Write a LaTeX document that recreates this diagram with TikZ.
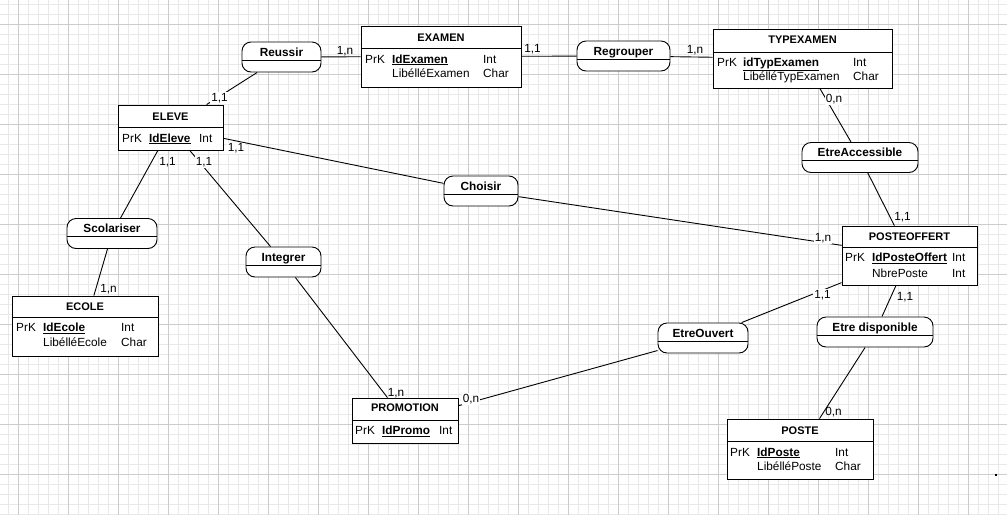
\documentclass[tikz,border=0pt]{standalone}
\usepackage{fontspec}
\setmainfont{Liberation Sans}

\begin{document}
\begin{tikzpicture}[x=1pt,y=-1pt,
  entity/.style={draw, fill=white, line width=0.9pt, inner sep=0pt},
  assoc/.style={draw, fill=white, line width=0.9pt, rounded corners=9pt, inner sep=0pt, minimum height=30pt},
  title/.style={anchor=base, inner sep=0pt, font=\fontsize{11}{13}\selectfont\bfseries},
  rel/.style={anchor=base, inner sep=0pt, font=\fontsize{11.8}{14}\selectfont\bfseries},
  attr/.style={anchor=base west, inner sep=0pt, font=\fontsize{11.8}{14}\selectfont},
  card/.style={anchor=base, inner sep=1pt, font=\fontsize{11.8}{14}\selectfont},
  cardw/.style={card, fill=white},
  link/.style={line width=0.9pt},
  gridmin/.style={gray!18, line width=0.6pt},
  gridmaj/.style={gray!40, line width=0.6pt}]
    \useasboundingbox (0,0) rectangle (1007,515);
    \fill[white] (0,0) rectangle (1007,515);
    % grille de fond
    \foreach \gx in {8,18,...,1006} \draw[gridmin] (\gx,0) -- (\gx,515);
    \foreach \gy in {4,14,...,514} \draw[gridmin] (0,\gy) -- (1007,\gy);
    \foreach \gx in {18,68,...,968} \draw[gridmaj] (\gx,0) -- (\gx,515);
    \foreach \gy in {24,74,...,474} \draw[gridmaj] (0,\gy) -- (1007,\gy);

    % entites
    \node[entity, minimum width=160pt, minimum height=61pt] (examen) at (441,56.5) {};
    \draw[link] (examen.west |- 0,48) -- (examen.east |- 0,48);
    \node[title] (examen-t) at (441,41) {EXAMEN};
    \node[attr] (examen-k) at (365,63) {PrK};
    \node[attr] (examen-i) at (392,63) {\underline{\textbf{IdExamen}}};
    \node[attr] (examen-it) at (483,63) {Int};
    \node[attr] (examen-l) at (392,77) {LibélléExamen};
    \node[attr] (examen-lt) at (483,77) {Char};

    \node[entity, minimum width=179pt, minimum height=59pt] (typexamen) at (802.5,58.5) {};
    \draw[link] (typexamen.west |- 0,52) -- (typexamen.east |- 0,52);
    \node[title] (typexamen-t) at (802.5,43.5) {TYPEXAMEN};
    \node[attr] (typexamen-k) at (717,66) {PrK};
    \node[attr] (typexamen-i) at (743,66) {\underline{\textbf{idTypExamen}}};
    \node[attr] (typexamen-it) at (853,66) {Int};
    \node[attr] (typexamen-l) at (743,80) {LibélléTypExamen};
    \node[attr] (typexamen-lt) at (853,80) {Char};

    \node[entity, minimum width=105pt, minimum height=45pt] (eleve) at (170.5,127.5) {};
    \draw[link] (eleve.west |- 0,127) -- (eleve.east |- 0,127);
    \node[title] (eleve-t) at (170.5,120) {ELEVE};
    \node[attr] (eleve-k) at (122,142) {PrK};
    \node[attr] (eleve-i) at (149,142) {\underline{\textbf{IdEleve}}};
    \node[attr] (eleve-it) at (199,142) {Int};

    \node[entity, minimum width=135pt, minimum height=59pt] (posteoffert) at (909.5,255.5) {};
    \draw[link] (posteoffert.west |- 0,247) -- (posteoffert.east |- 0,247);
    \node[title] (posteoffert-t) at (909.5,240) {POSTEOFFERT};
    \node[attr] (posteoffert-k) at (845,261.5) {PrK};
    \node[attr] (posteoffert-i) at (872,261.5) {\underline{\textbf{IdPosteOffert}}};
    \node[attr] (posteoffert-it) at (952,261.5) {Int};
    \node[attr] (posteoffert-n) at (872,277) {NbrePoste};
    \node[attr] (posteoffert-nt) at (952,277) {Int};

    \node[entity, minimum width=146pt, minimum height=60pt] (ecole) at (85,326) {};
    \draw[link] (ecole.west |- 0,317) -- (ecole.east |- 0,317);
    \node[title] (ecole-t) at (85,310.5) {ECOLE};
    \node[attr] (ecole-k) at (16,331.5) {PrK};
    \node[attr] (ecole-i) at (43,331.5) {\underline{\textbf{IdEcole}}};
    \node[attr] (ecole-it) at (121,331.5) {Int};
    \node[attr] (ecole-l) at (43,346.5) {LibélléEcole};
    \node[attr] (ecole-lt) at (121,346.5) {Char};

    \node[entity, minimum width=106pt, minimum height=45pt] (promotion) at (405,420.5) {};
    \draw[link] (promotion.west |- 0,420) -- (promotion.east |- 0,420);
    \node[title] (promotion-t) at (405,411.5) {PROMOTION};
    \node[attr] (promotion-k) at (355,434.5) {PrK};
    \node[attr] (promotion-i) at (382,434.5) {\underline{\textbf{IdPromo}}};
    \node[attr] (promotion-it) at (439,434.5) {Int};

    \node[entity, minimum width=146pt, minimum height=60pt] (poste) at (800,449) {};
    \draw[link] (poste.west |- 0,441) -- (poste.east |- 0,441);
    \node[title] (poste-t) at (800,434) {POSTE};
    \node[attr] (poste-k) at (730,456) {PrK};
    \node[attr] (poste-i) at (757,456) {\underline{\textbf{IdPoste}}};
    \node[attr] (poste-it) at (835,456) {Int};
    \node[attr] (poste-l) at (757,470.5) {LibélléPoste};
    \node[attr] (poste-lt) at (835,470.5) {Char};

    % associations
    \foreach \nm/\cx/\cy/\w/\txt in {reussir/281.5/57/79/Reussir,
        regrouper/623.5/56/93/Regrouper,
        etreaccessible/860/157.5/116/EtreAccessible,
        scolariser/112/233.5/90/Scolariser,
        integrer/283.5/262/75/Integrer,
        choisir/481/191/74/Choisir,
        etreouvert/703/338/90/EtreOuvert,
        etredispo/875/332/116/Etre disponible} {
      \node[assoc, minimum width=\w pt] (\nm) at (\cx,\cy) {};
      \draw[link] ([yshift=-3pt]\nm.west) -- ([yshift=-3pt]\nm.east);
      \node[rel] (\nm-t) at ([yshift=1pt]\nm.center) {\txt};
    }

    % liens
    \draw[link] (reussir) -- (examen);
    \draw[link] (reussir) -- (eleve);
    \draw[link] (examen) -- (regrouper);
    \draw[link] (regrouper) -- (typexamen);
    \draw[link] (typexamen) -- (etreaccessible);
    \draw[link] (etreaccessible) -- (posteoffert);
    \draw[link] (eleve) -- (choisir);
    \draw[link] (choisir) -- (posteoffert);
    \draw[link] (eleve) -- (scolariser);
    \draw[link] (scolariser) -- (ecole);
    \draw[link] (eleve) -- (integrer);
    \draw[link] (integrer) -- (promotion);
    \draw[link] (promotion) -- (etreouvert);
    \draw[link] (etreouvert) -- (posteoffert);
    \draw[link] (posteoffert) -- (etredispo);
    \draw[link] (etredispo) -- (poste);

    % cardinalites
    \node[card] (c1) at (345,54.5) {1,n};
    \node[cardw] (c2) at (219.5,101) {1,1};
    \node[card] (c3) at (532.5,52.7) {1,1};
    \node[card] (c4) at (695,53) {1,n};
    \node[cardw] (c5) at (834,102.5) {0,n};
    \node[card] (c6) at (902.5,220) {1,1};
    \node[cardw] (c7) at (236,151.7) {1,1};
    \node[cardw] (c8) at (823,241.7) {1,n};
    \node[card] (c9) at (167.5,165) {1,1};
    \node[card] (c10) at (108.5,292.7) {1,n};
    \node[cardw] (c11) at (204,165) {1,1};
    \node[card] (c12) at (396,396) {1,n};
    \node[cardw] (c13) at (471,402.7) {0,n};
    \node[cardw] (c14) at (822.5,298.3) {1,1};
    \node[card] (c15) at (905,300) {1,1};
    \node[card] (c16) at (833.5,415) {0,n};

    \fill (995,474) rectangle (997,476);
\end{tikzpicture}
\end{document}
